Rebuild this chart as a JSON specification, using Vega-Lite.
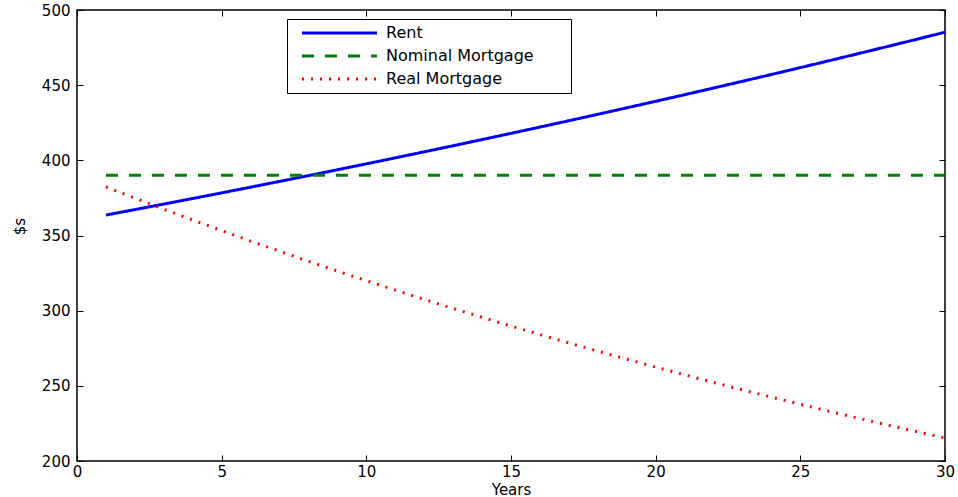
{
  "$schema": "https://vega.github.io/schema/vega-lite/v6.json",
  "width": 868,
  "height": 451,
  "autosize": "none",
  "padding": {"left": 77, "top": 10, "right": 13, "bottom": 36},
  "background": "white",
  "config": {
    "font": "DejaVu Sans",
    "view": {"stroke": "black", "strokeWidth": 1.5},
    "axis": {
      "domain": false,
      "grid": false,
      "ticks": true,
      "tickColor": "black",
      "tickSize": -6,
      "tickWidth": 1,
      "labelColor": "black",
      "labelFont": "DejaVu Sans",
      "labelFontSize": 15,
      "titleColor": "black",
      "titleFont": "DejaVu Sans",
      "titleFontSize": 15,
      "titleFontWeight": "normal"
    }
  },
  "data": {
    "values": [
      {"year": 1, "series": "Rent", "value": 363.60},
      {"year": 2, "series": "Rent", "value": 367.24},
      {"year": 3, "series": "Rent", "value": 370.91},
      {"year": 4, "series": "Rent", "value": 374.62},
      {"year": 5, "series": "Rent", "value": 378.36},
      {"year": 6, "series": "Rent", "value": 382.15},
      {"year": 7, "series": "Rent", "value": 385.97},
      {"year": 8, "series": "Rent", "value": 389.83},
      {"year": 9, "series": "Rent", "value": 393.73},
      {"year": 10, "series": "Rent", "value": 397.66},
      {"year": 11, "series": "Rent", "value": 401.64},
      {"year": 12, "series": "Rent", "value": 405.66},
      {"year": 13, "series": "Rent", "value": 409.71},
      {"year": 14, "series": "Rent", "value": 413.81},
      {"year": 15, "series": "Rent", "value": 417.95},
      {"year": 16, "series": "Rent", "value": 422.13},
      {"year": 17, "series": "Rent", "value": 426.35},
      {"year": 18, "series": "Rent", "value": 430.61},
      {"year": 19, "series": "Rent", "value": 434.92},
      {"year": 20, "series": "Rent", "value": 439.27},
      {"year": 21, "series": "Rent", "value": 443.66},
      {"year": 22, "series": "Rent", "value": 448.10},
      {"year": 23, "series": "Rent", "value": 452.58},
      {"year": 24, "series": "Rent", "value": 457.10},
      {"year": 25, "series": "Rent", "value": 461.68},
      {"year": 26, "series": "Rent", "value": 466.29},
      {"year": 27, "series": "Rent", "value": 470.96},
      {"year": 28, "series": "Rent", "value": 475.66},
      {"year": 29, "series": "Rent", "value": 480.42},
      {"year": 30, "series": "Rent", "value": 485.23},
      {"year": 1, "series": "Nominal Mortgage", "value": 390},
      {"year": 2, "series": "Nominal Mortgage", "value": 390},
      {"year": 3, "series": "Nominal Mortgage", "value": 390},
      {"year": 4, "series": "Nominal Mortgage", "value": 390},
      {"year": 5, "series": "Nominal Mortgage", "value": 390},
      {"year": 6, "series": "Nominal Mortgage", "value": 390},
      {"year": 7, "series": "Nominal Mortgage", "value": 390},
      {"year": 8, "series": "Nominal Mortgage", "value": 390},
      {"year": 9, "series": "Nominal Mortgage", "value": 390},
      {"year": 10, "series": "Nominal Mortgage", "value": 390},
      {"year": 11, "series": "Nominal Mortgage", "value": 390},
      {"year": 12, "series": "Nominal Mortgage", "value": 390},
      {"year": 13, "series": "Nominal Mortgage", "value": 390},
      {"year": 14, "series": "Nominal Mortgage", "value": 390},
      {"year": 15, "series": "Nominal Mortgage", "value": 390},
      {"year": 16, "series": "Nominal Mortgage", "value": 390},
      {"year": 17, "series": "Nominal Mortgage", "value": 390},
      {"year": 18, "series": "Nominal Mortgage", "value": 390},
      {"year": 19, "series": "Nominal Mortgage", "value": 390},
      {"year": 20, "series": "Nominal Mortgage", "value": 390},
      {"year": 21, "series": "Nominal Mortgage", "value": 390},
      {"year": 22, "series": "Nominal Mortgage", "value": 390},
      {"year": 23, "series": "Nominal Mortgage", "value": 390},
      {"year": 24, "series": "Nominal Mortgage", "value": 390},
      {"year": 25, "series": "Nominal Mortgage", "value": 390},
      {"year": 26, "series": "Nominal Mortgage", "value": 390},
      {"year": 27, "series": "Nominal Mortgage", "value": 390},
      {"year": 28, "series": "Nominal Mortgage", "value": 390},
      {"year": 29, "series": "Nominal Mortgage", "value": 390},
      {"year": 30, "series": "Nominal Mortgage", "value": 390},
      {"year": 1, "series": "Real Mortgage", "value": 382.35},
      {"year": 2, "series": "Real Mortgage", "value": 374.86},
      {"year": 3, "series": "Real Mortgage", "value": 367.50},
      {"year": 4, "series": "Real Mortgage", "value": 360.30},
      {"year": 5, "series": "Real Mortgage", "value": 353.23},
      {"year": 6, "series": "Real Mortgage", "value": 346.31},
      {"year": 7, "series": "Real Mortgage", "value": 339.52},
      {"year": 8, "series": "Real Mortgage", "value": 332.86},
      {"year": 9, "series": "Real Mortgage", "value": 326.33},
      {"year": 10, "series": "Real Mortgage", "value": 319.94},
      {"year": 11, "series": "Real Mortgage", "value": 313.66},
      {"year": 12, "series": "Real Mortgage", "value": 307.51},
      {"year": 13, "series": "Real Mortgage", "value": 301.48},
      {"year": 14, "series": "Real Mortgage", "value": 295.57},
      {"year": 15, "series": "Real Mortgage", "value": 289.78},
      {"year": 16, "series": "Real Mortgage", "value": 284.10},
      {"year": 17, "series": "Real Mortgage", "value": 278.52},
      {"year": 18, "series": "Real Mortgage", "value": 273.06},
      {"year": 19, "series": "Real Mortgage", "value": 267.71},
      {"year": 20, "series": "Real Mortgage", "value": 262.46},
      {"year": 21, "series": "Real Mortgage", "value": 257.31},
      {"year": 22, "series": "Real Mortgage", "value": 252.27},
      {"year": 23, "series": "Real Mortgage", "value": 247.32},
      {"year": 24, "series": "Real Mortgage", "value": 242.47},
      {"year": 25, "series": "Real Mortgage", "value": 237.72},
      {"year": 26, "series": "Real Mortgage", "value": 233.05},
      {"year": 27, "series": "Real Mortgage", "value": 228.49},
      {"year": 28, "series": "Real Mortgage", "value": 224.01},
      {"year": 29, "series": "Real Mortgage", "value": 219.61},
      {"year": 30, "series": "Real Mortgage", "value": 215.31}
    ]
  },
  "resolve": {"axis": {"x": "independent", "y": "independent"}},
  "layer": [
    {
      "mark": {"type": "line", "clip": true},
      "encoding": {
        "x": {
          "field": "year", "type": "quantitative",
          "scale": {"domain": [0, 30], "nice": false, "zero": false},
          "axis": {"orient": "bottom", "title": "Years", "values": [0, 5, 10, 15, 20, 25, 30], "labelPadding": 9, "titlePadding": 3, "labelFlush": false}
        },
        "y": {
          "field": "value", "type": "quantitative",
          "scale": {"domain": [200, 500], "nice": false, "zero": false},
          "axis": {"orient": "left", "title": "$s", "titleY": 216, "values": [200, 250, 300, 350, 400, 450, 500], "labelPadding": 13, "titlePadding": 14, "labelFlush": false}
        },
        "color": {
          "field": "series", "type": "nominal",
          "scale": {"domain": ["Rent", "Nominal Mortgage", "Real Mortgage"], "range": ["#0000ff", "#008000", "#ff0000"]},
          "legend": {
            "title": null,
            "orient": "none",
            "legendX": 210,
            "legendY": 9,
            "direction": "vertical",
            "strokeColor": "black",
            "fillColor": "white",
            "padding": 6,
            "symbolType": "M0.2,0H15.2",
            "symbolSize": 100,
            "labelFont": "DejaVu Sans",
            "labelFontSize": 16,
            "labelColor": "black",
            "labelOffset": 77,
            "labelLimit": 400,
            "labelExpr": "datum.label + '\u00a0\u00a0\u00a0\u00a0\u00a0\u00a0\u200b'",
            "rowPadding": 7
          }
        },
        "strokeDash": {
          "field": "series", "type": "nominal",
          "scale": {"domain": ["Rent", "Nominal Mortgage", "Real Mortgage"], "range": [[1, 0], [12, 11], [2, 7]]}
        },
        "strokeWidth": {
          "field": "series", "type": "nominal",
          "scale": {"domain": ["Rent", "Nominal Mortgage", "Real Mortgage"], "range": [3, 3, 1.2]}
        }
      }
    },
    {
      "mark": {"type": "line", "strokeOpacity": 0},
      "encoding": {
        "x": {
          "field": "year", "type": "quantitative",
          "scale": {"domain": [0, 30], "nice": false, "zero": false},
          "axis": {"orient": "top", "title": null, "labels": false, "values": [0, 5, 10, 15, 20, 25, 30]}
        },
        "y": {
          "field": "value", "type": "quantitative",
          "scale": {"domain": [200, 500], "nice": false, "zero": false},
          "axis": {"orient": "right", "title": null, "labels": false, "values": [200, 250, 300, 350, 400, 450, 500]}
        },
        "detail": {"field": "series", "type": "nominal"}
      }
    }
  ]
}
